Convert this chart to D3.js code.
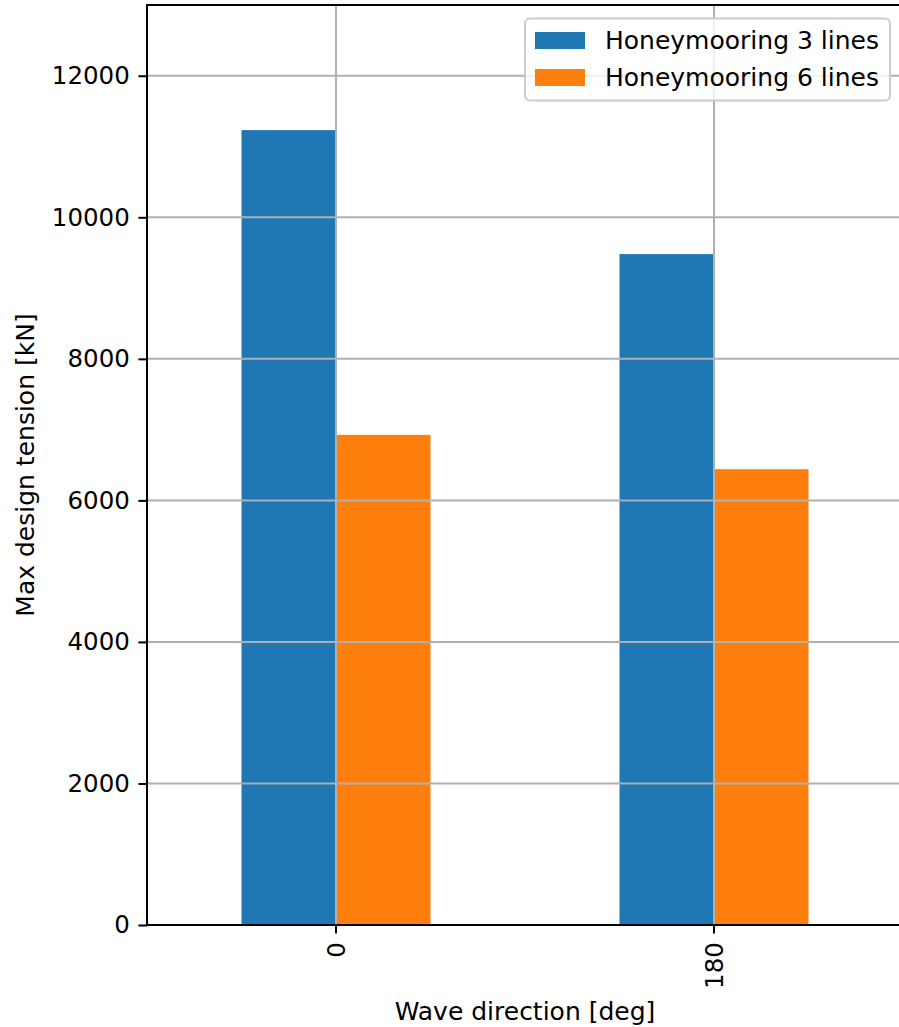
<!DOCTYPE html>
<html>
<head>
<meta charset="utf-8">
<script src="https://cdn.jsdelivr.net/npm/d3@7"></script>
<style>
  html, body { margin: 0; padding: 0; background: #fff; }
  svg { display: block; }
  text { font-family: "DejaVu Sans", sans-serif; fill: #000; }
</style>
</head>
<body>
<svg id="chart" width="899" height="1027"></svg>
<script>
// Wave directions (deg) and maximum design tension (kN) per mooring layout
const directions = ["0", "180"];
const seriesNames = ["Honeymooring 3 lines", "Honeymooring 6 lines"];
const tension3Lines = [11232, 9480];
const tension6Lines = [6926, 6441];
const yTicks = [0, 2000, 4000, 6000, 8000, 10000, 12000];
const colors = ["#1f77b4", "#ff7f0e"];

const seriesValues = [tension3Lines, tension6Lines];

const plot = { left: 147, right: 903, top: 5, bottom: 925 };
const fs = 24.5;     // tick labels
const fsLabel = 25;  // axis labels and legend

const svg = d3.select("#chart");

const x = d3.scaleBand()
  .domain(directions)
  .range([plot.left, plot.right])
  .paddingInner(0.5)
  .paddingOuter(0.25);

const xSub = d3.scaleBand()
  .domain(seriesNames)
  .range([0, x.bandwidth()]);

const y = d3.scaleLinear()
  .domain([0, 13000])
  .range([plot.bottom, plot.top]);

const color = d3.scaleOrdinal().domain(seriesNames).range(colors);

svg.append("clipPath").attr("id", "plotclip")
  .append("rect")
  .attr("x", plot.left).attr("y", plot.top)
  .attr("width", plot.right - plot.left).attr("height", plot.bottom - plot.top);

// Bars
const groups = svg.append("g").selectAll("g")
  .data(directions)
  .join("g")
  .attr("transform", d => `translate(${x(d)},0)`);

groups.selectAll("rect")
  .data((d, i) => seriesNames.map((s, k) => ({ s, v: seriesValues[k][i] })))
  .join("rect")
  .attr("x", d => xSub(d.s))
  .attr("width", xSub.bandwidth())
  .attr("y", d => y(d.v))
  .attr("height", d => y(0) - y(d.v))
  .attr("fill", d => color(d.s));

// Grid lines (above the bars)
const grid = svg.append("g").attr("clip-path", "url(#plotclip)")
  .attr("stroke", "#b0b0b0").attr("stroke-width", 2);
grid.selectAll("line.h")
  .data(yTicks)
  .join("line").attr("class", "h")
  .attr("x1", plot.left).attr("x2", plot.right)
  .attr("y1", d => y(d)).attr("y2", d => y(d));
grid.selectAll("line.v")
  .data(directions)
  .join("line").attr("class", "v")
  .attr("x1", d => x(d) + x.bandwidth() / 2).attr("x2", d => x(d) + x.bandwidth() / 2)
  .attr("y1", plot.top).attr("y2", plot.bottom);

// Y axis
const yAxis = d3.axisLeft(y).tickValues(yTicks).tickFormat(d3.format("d"))
  .tickSize(8.6).tickPadding(8.6);
const gy = svg.append("g").attr("transform", `translate(${plot.left},0)`).call(yAxis);
gy.select(".domain").remove();
gy.selectAll(".tick line").attr("stroke", "#000").attr("stroke-width", 2);
gy.selectAll(".tick text").attr("font-size", fs).attr("font-family", "DejaVu Sans");

// X axis
const xAxis = d3.axisBottom(x).tickSize(8.6).tickPadding(8.6);
const gx = svg.append("g").attr("transform", `translate(0,${plot.bottom})`).call(xAxis);
gx.select(".domain").remove();
gx.selectAll(".tick line").attr("stroke", "#000").attr("stroke-width", 2);
gx.selectAll(".tick text")
  .attr("font-size", fs).attr("font-family", "DejaVu Sans")
  .attr("transform", "rotate(-90)")
  .attr("text-anchor", "end")
  .attr("dy", "0.35em")
  .attr("x", -(8.6 + 8.6))
  .attr("y", 0);

// Spines
const spines = svg.append("g").attr("stroke", "#000").attr("stroke-width", 2).attr("fill", "none");
spines.append("line").attr("x1", plot.left).attr("x2", plot.left).attr("y1", plot.top - 1).attr("y2", plot.bottom + 1);
spines.append("line").attr("x1", plot.left - 1).attr("x2", plot.right + 1).attr("y1", plot.bottom).attr("y2", plot.bottom);
spines.append("line").attr("x1", plot.left - 1).attr("x2", plot.right + 1).attr("y1", plot.top).attr("y2", plot.top);
spines.append("line").attr("x1", plot.right).attr("x2", plot.right).attr("y1", plot.top - 1).attr("y2", plot.bottom + 1);

// Axis labels
svg.append("text")
  .attr("x", (plot.left + plot.right) / 2)
  .attr("y", 1020)
  .attr("text-anchor", "middle")
  .attr("font-size", fsLabel)
  .text("Wave direction [deg]");

svg.append("text")
  .attr("transform", `translate(34,${(plot.top + plot.bottom) / 2}) rotate(-90)`)
  .attr("text-anchor", "middle")
  .attr("font-size", fsLabel)
  .text("Max design tension [kN]");

// Legend
const lg = { x: 525, y: 18.5, w: 365, h: 82 };
const legend = svg.append("g");
legend.append("rect")
  .attr("x", lg.x).attr("y", lg.y).attr("width", lg.w).attr("height", lg.h)
  .attr("rx", 5).attr("ry", 5)
  .attr("fill", "#fff").attr("fill-opacity", 0.8)
  .attr("stroke", "#cccccc").attr("stroke-width", 2);
const items = legend.selectAll("g.item")
  .data(seriesNames)
  .join("g").attr("class", "item")
  .attr("transform", (d, i) => `translate(${lg.x + 10},${lg.y + 22 + i * 37})`);
items.append("rect")
  .attr("x", 0).attr("y", -8.5).attr("width", 50).attr("height", 17)
  .attr("fill", d => color(d));
items.append("text")
  .attr("x", 70).attr("y", 0).attr("dy", "0.35em")
  .attr("font-size", fsLabel)
  .text(d => d);
</script>
</body>
</html>
